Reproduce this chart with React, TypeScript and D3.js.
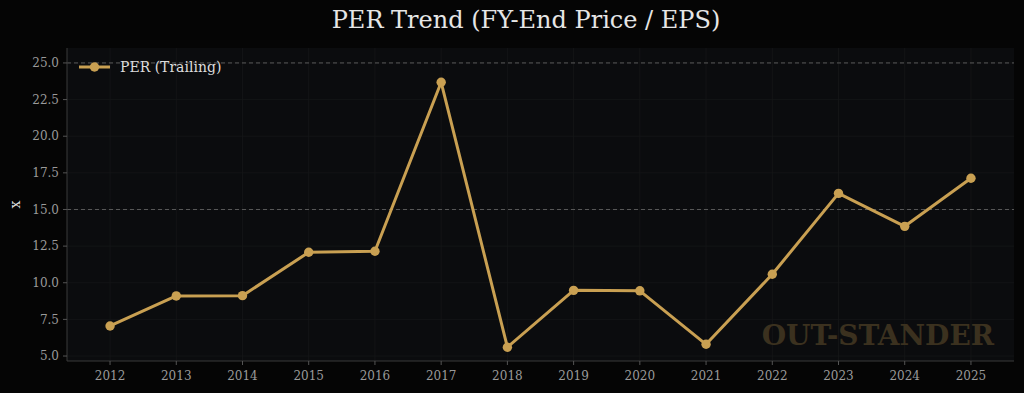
import * as d3 from 'd3';

const years = [2012, 2013, 2014, 2015, 2016, 2017, 2018, 2019, 2020, 2021, 2022, 2023, 2024, 2025];
const per = [7.05, 9.1, 9.12, 12.08, 12.15, 23.68, 5.6, 9.48, 9.45, 5.8, 10.58, 16.1, 13.85, 17.13];
const yTicks = [5, 7.5, 10, 12.5, 15, 17.5, 20, 22.5, 25];
const refLines = [15, 25];

const W = 1024;
const H = 393;
const m = { left: 67, right: 10, top: 48, bottom: 32 };
const gold = '#c9a052';
const font = '"DejaVu Serif", serif';

export default function App() {
	const x = d3.scaleLinear().domain([2011.35, 2025.65]).range([m.left, W - m.right]);
	const y = d3.scaleLinear().domain([4.66, 26.02]).range([H - m.bottom, m.top]);

	const line = d3.line<number>()
		.x((_, i) => x(years[i]))
		.y(d => y(d));

	const bottom = H - m.bottom;

	return (
		<svg width={W} height={H} style={{ position: 'fixed', left: 0, top: 0, background: '#050505', fontFamily: font }}>
			<rect x={m.left} y={m.top} width={W - m.right - m.left} height={bottom - m.top} fill='#0b0c0e' />

			{/* faint grid */}
			{yTicks.map(t => (
				<line key={'gy' + t} x1={m.left} x2={W - m.right} y1={y(t)} y2={y(t)} stroke='#151618' strokeWidth={0.8} />
			))}
			{years.map(t => (
				<line key={'gx' + t} x1={x(t)} x2={x(t)} y1={m.top} y2={bottom} stroke='#151618' strokeWidth={0.8} />
			))}

			{refLines.map(r => (
				<line key={'r' + r} x1={m.left} x2={W - m.right} y1={y(r)} y2={y(r)} stroke='#5a5a5a' strokeWidth={1} strokeDasharray='4,3' />
			))}

			<text x={994} y={345} textAnchor='end' fontSize={28} fontWeight='bold' fill='#3b311f'>OUT-STANDER</text>

			{/* axes */}
			<line x1={m.left} x2={m.left} y1={m.top} y2={bottom} stroke='#3a3a3a' />
			<line x1={m.left} x2={W - m.right} y1={bottom} y2={bottom} stroke='#3a3a3a' />
			{yTicks.map(t => (
				<g key={'ty' + t}>
					<line x1={m.left - 4} x2={m.left} y1={y(t)} y2={y(t)} stroke='#555' />
					<text x={m.left - 8} y={y(t)} dy='0.35em' textAnchor='end' fontSize={12} fill='#9a9a9a'>{t.toFixed(1)}</text>
				</g>
			))}
			{years.map(t => (
				<g key={'tx' + t}>
					<line x1={x(t)} x2={x(t)} y1={bottom} y2={bottom + 4} stroke='#555' />
					<text x={x(t)} y={bottom + 19} textAnchor='middle' fontSize={12} fill='#9a9a9a'>{t}</text>
				</g>
			))}
			<text transform={`translate(20,${(m.top + bottom) / 2}) rotate(-90)`} textAnchor='middle' fontSize={14} fill='#dddddd'>x</text>

			<path d={line(per) ?? ''} fill='none' stroke={gold} strokeWidth={3} strokeLinejoin='round' />
			{per.map((v, i) => (
				<circle key={years[i]} cx={x(years[i])} cy={y(v)} r={4.7} fill={gold} />
			))}

			{/* legend */}
			<line x1={79} x2={110} y1={67} y2={67} stroke={gold} strokeWidth={3} />
			<circle cx={94.5} cy={67} r={4.7} fill={gold} />
			<text x={120} y={67} dy='0.35em' fontSize={14} fill='#dddddd'>PER (Trailing)</text>

			<text x={526} y={28} textAnchor='middle' fontSize={24} fill='#e6e6e6'>PER Trend (FY-End Price / EPS)</text>
		</svg>
	);
}
